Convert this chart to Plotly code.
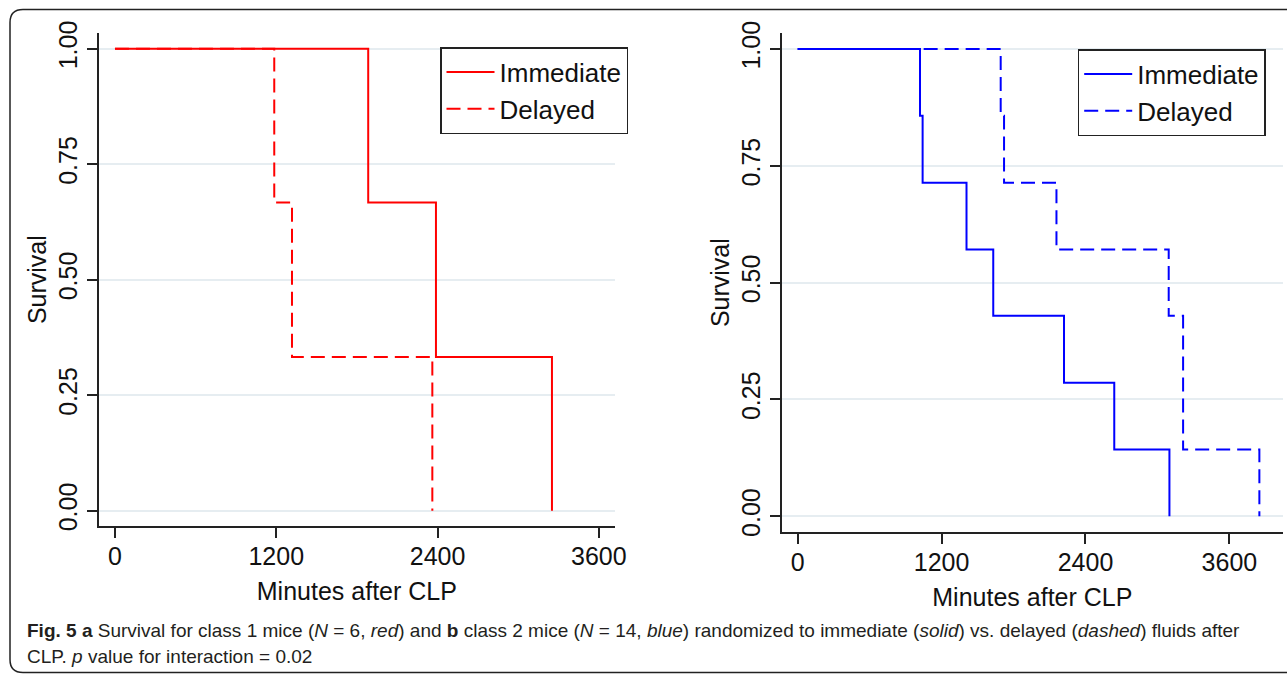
import plotly.graph_objects as go

# ---- data (minutes after CLP, survival) ----
class1_immediate_t = [0, 1884, 2388, 3251]
class1_immediate_s = [1.0, 0.667, 0.333, 0.0]
class1_delayed_t = [0, 1185, 1317, 2361]
class1_delayed_s = [1.0, 0.667, 0.333, 0.0]

class2_immediate_t = [0, 1020, 1042, 1408, 1631, 2221, 2640, 3100]
class2_immediate_s = [1.0, 0.857, 0.714, 0.571, 0.429, 0.286, 0.143, 0.0]
class2_delayed_t = [0, 1693, 1721, 2158, 3094, 3214, 3850]
class2_delayed_s = [1.0, 0.857, 0.714, 0.571, 0.429, 0.143, 0.0]

x_ticks = [0, 1200, 2400, 3600]
y_ticks = [0, 0.25, 0.5, 0.75, 1.0]
series_names = ["Immediate", "Delayed"]

W, H = 1287, 674
FONT = "Liberation Sans, Arial, Helvetica, sans-serif"
AX = "#222222"
GRID = "#e6edf1"
DASH = "14px,7px"
FS = 25


def px(x):
    return x / W


def py(y):
    return 1 - y / H


fig = go.Figure()

fig.add_trace(go.Scatter(x=class1_immediate_t, y=class1_immediate_s, mode="lines",
                         line=dict(color="#ff0000", width=2, shape="hv"),
                         name=series_names[0], xaxis="x", yaxis="y", legend="legend"))
fig.add_trace(go.Scatter(x=class1_delayed_t, y=class1_delayed_s, mode="lines",
                         line=dict(color="#ff0000", width=2, shape="hv", dash=DASH),
                         name=series_names[1], xaxis="x", yaxis="y", legend="legend"))
fig.add_trace(go.Scatter(x=class2_immediate_t, y=class2_immediate_s, mode="lines",
                         line=dict(color="#0000ff", width=2, shape="hv"),
                         name=series_names[0], xaxis="x2", yaxis="y2", legend="legend2"))
fig.add_trace(go.Scatter(x=class2_delayed_t, y=class2_delayed_s, mode="lines",
                         line=dict(color="#0000ff", width=2, shape="hv", dash=DASH),
                         name=series_names[1], xaxis="x2", yaxis="y2", legend="legend2"))

common_x = dict(showline=True, linecolor=AX, linewidth=1.5, ticks="outside", ticklen=10,
                tickwidth=1.5, tickcolor=AX, showgrid=False, zeroline=False,
                tickvals=x_ticks, tickfont=dict(size=FS, color="#111"),
                ticklabelstandoff=-3, automargin=False)
common_y = dict(showline=True, linecolor=AX, linewidth=1.5, ticks="outside", ticklen=10,
                tickwidth=1.5, tickcolor=AX, showgrid=True, gridcolor=GRID, gridwidth=1.5,
                zeroline=False, tickvals=y_ticks, tickformat=".2f", tickangle=-90,
                tickfont=dict(size=FS, color="#111"), ticklabelstandoff=0, automargin=False)

legend_common = dict(xanchor="left", yanchor="top", bordercolor=AX, borderwidth=1.5,
                     bgcolor="white", font=dict(size=26, color="#111"), tracegroupgap=0,
                     itemwidth=48)

fig.update_layout(
    template="none",
    width=W, height=H,
    margin=dict(l=0, r=0, t=0, b=0, autoexpand=False),
    paper_bgcolor="white", plot_bgcolor="white",
    font=dict(family=FONT, color="#111"),
    xaxis=dict(domain=[px(98.7), px(615)], range=[-121, 3720], anchor="y",
               title=dict(text="Minutes after CLP", font=dict(size=FS), standoff=14), **common_x),
    yaxis=dict(domain=[py(526), py(33.3)], range=[-0.033, 1.0335], anchor="x",
               title=dict(text="Survival", font=dict(size=FS), standoff=0), **common_y),
    xaxis2=dict(domain=[px(781.7), px(1283)], range=[-133, 4047], anchor="y2",
                title=dict(text="Minutes after CLP", font=dict(size=FS), standoff=14), **common_x),
    yaxis2=dict(domain=[py(532), py(33.3)], range=[-0.0336, 1.0336], anchor="x2",
                title=dict(text="Survival", font=dict(size=FS), standoff=0), **common_y),
    legend=dict(x=px(440), y=py(47), **legend_common),
    legend2=dict(x=px(1077.7), y=py(49), **legend_common),
    showlegend=True,
)

# rounded frame around the whole figure (right side runs off the page)
r = 13
x0, y0, yb = 10, 9.5, 672.5
path = (f"M {px(1300)},{py(y0)} L {px(x0 + r)},{py(y0)} "
        f"Q {px(x0)},{py(y0)} {px(x0)},{py(y0 + r)} "
        f"L {px(x0)},{py(yb - r)} Q {px(x0)},{py(yb)} {px(x0 + r)},{py(yb)} "
        f"L {px(1300)},{py(yb)}")
fig.add_shape(type="path", path=path, xref="paper", yref="paper",
              line=dict(color="#222", width=1.5), layer="above")

caption1 = ("<b>Fig. 5</b> <b>a</b> Survival for class 1 mice (<i>N</i> = 6, <i>red</i>) and "
            "<b>b</b> class 2 mice (<i>N</i> = 14, <i>blue</i>) randomized to immediate "
            "(<i>solid</i>) vs. delayed (<i>dashed</i>) fluids after")
caption2 = "CLP. <i>p</i> value for interaction = 0.02"
fig.add_annotation(text=caption1, xref="paper", yref="paper", x=px(25), y=py(630),
                   xanchor="left", yanchor="middle", showarrow=False,
                   font=dict(size=19, color="#231f20", family=FONT))
fig.add_annotation(text=caption2, xref="paper", yref="paper", x=px(25), y=py(656),
                   xanchor="left", yanchor="middle", showarrow=False,
                   font=dict(size=19, color="#231f20", family=FONT))

fig.write_html("out.html", config={"displayModeBar": False},
               post_script="document.body.style.margin='0';document.body.style.overflow='hidden';")
